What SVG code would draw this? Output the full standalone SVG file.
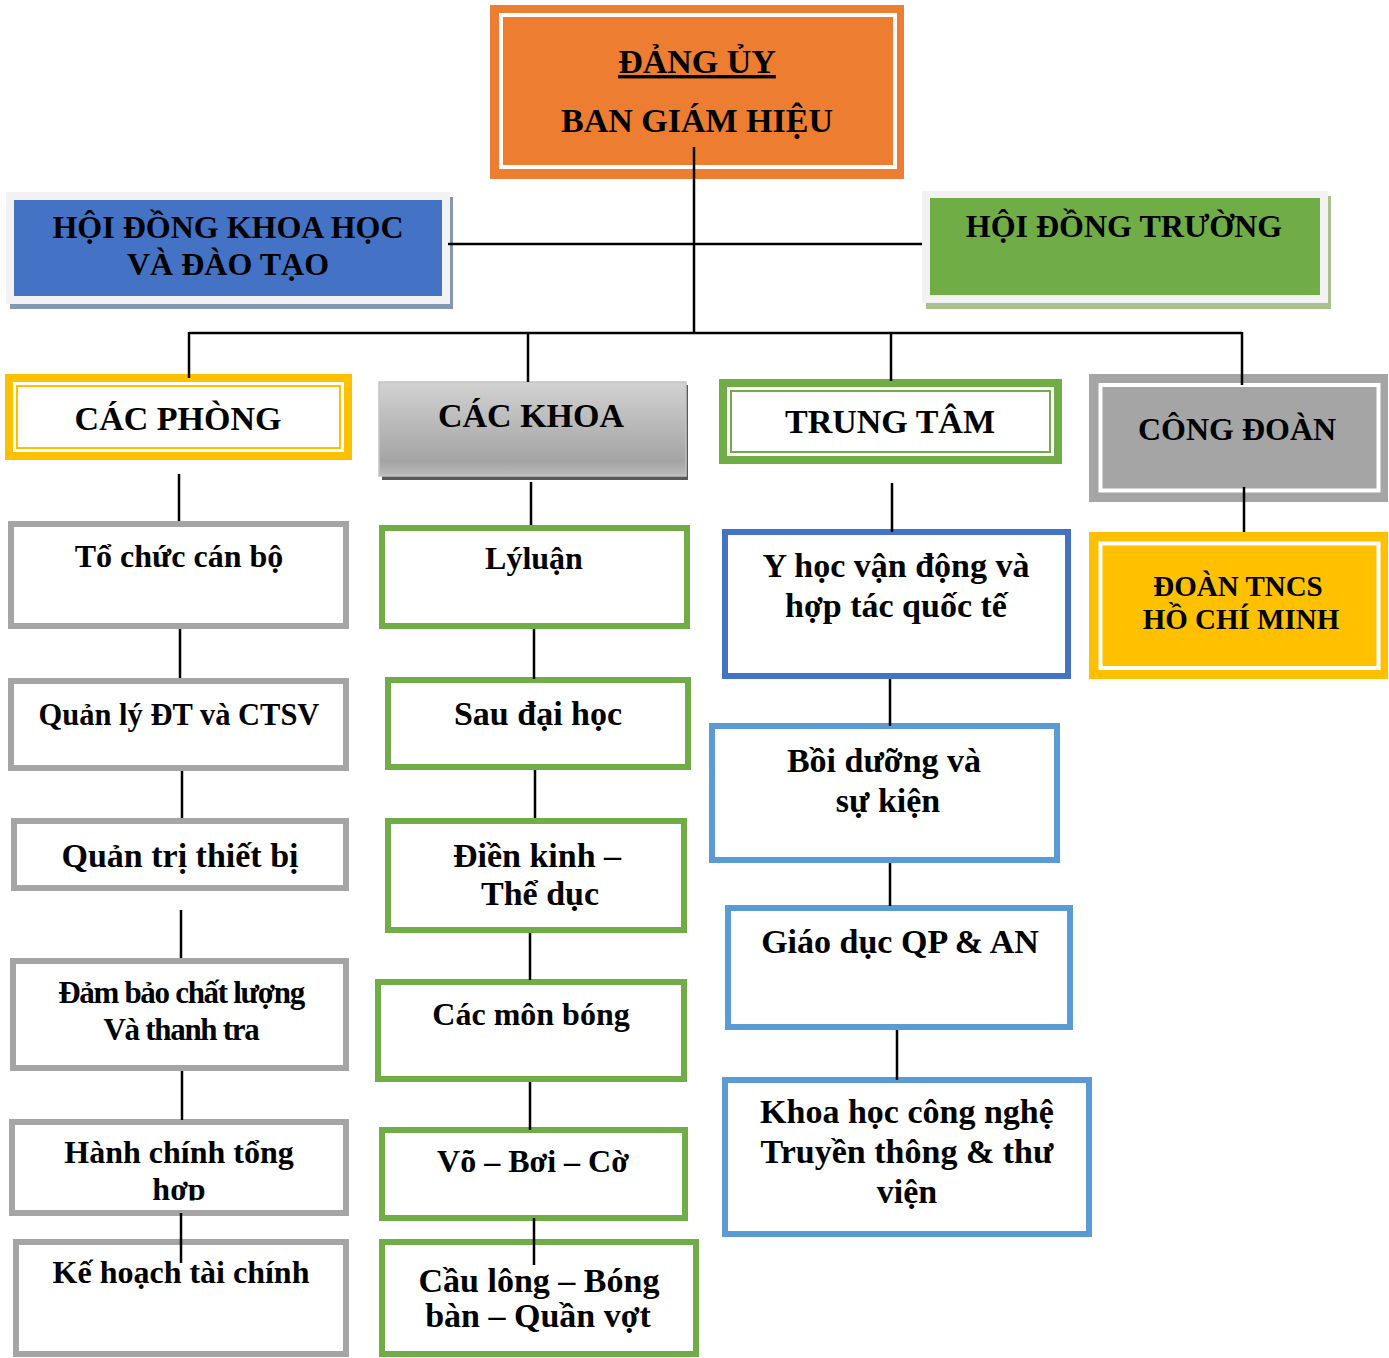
<svg xmlns="http://www.w3.org/2000/svg" width="1389" height="1358" viewBox="0 0 1389 1358">
<style>
.t{font-family:"Liberation Serif","Times New Roman",serif;font-weight:bold;fill:#000;text-anchor:middle}
.ln{stroke:#000;stroke-width:2.5;fill:none}
.gray{fill:#fff;stroke:#a5a5a5;stroke-width:6}
.green{fill:#fff;stroke:#70ad47;stroke-width:6}
.blue{fill:#fff;stroke:#4472c4;stroke-width:6}
.lblue{fill:#fff;stroke:#5b9bd5;stroke-width:6}
</style>
<defs>
<linearGradient id="gk" x1="0" y1="0" x2="0" y2="1">
<stop offset="0" stop-color="#d2d2d2"/>
<stop offset="0.85" stop-color="#a4a4a4"/>
<stop offset="1" stop-color="#bcbcbc"/>
</linearGradient>
<clipPath id="cl1"><rect x="0" y="1100" width="400" height="100.5"/></clipPath>
</defs>
<rect width="1389" height="1358" fill="#fff"/>

<g id="dang-uy">
<rect x="490" y="5" width="414" height="174" fill="#ed7d31"/>
<rect x="501" y="15" width="394" height="152" fill="none" stroke="#fff" stroke-width="4"/>
<text class="t" x="697" y="73" font-size="34" text-decoration="underline">ĐẢNG ỦY</text>
<text class="t" x="697" y="132" font-size="34">BAN GIÁM HIỆU</text>
</g>

<g id="hd-khoa-hoc">
<rect x="10" y="197" width="443" height="112" fill="#8497b0"/>
<rect x="6" y="192" width="444" height="112" fill="#f2f2f2"/>
<rect x="14" y="200" width="428" height="96" fill="#4472c4"/>
<text class="t" x="228" y="238" font-size="32">HỘI ĐỒNG KHOA HỌC</text>
<text class="t" x="228" y="275" font-size="32">VÀ ĐÀO TẠO</text>
</g>

<g id="hd-truong">
<rect x="926" y="196" width="405" height="113" fill="#a9c08f"/>
<rect x="922" y="191" width="406" height="112" fill="#f2f2f2"/>
<rect x="930" y="198" width="390" height="97" fill="#70ad47"/>
<text class="t" x="1124" y="237" font-size="32">HỘI ĐỒNG TRƯỜNG</text>
</g>

<g id="cac-phong">
<rect x="5" y="374" width="347" height="86" fill="#ffc000"/>
<rect x="13" y="382" width="331" height="70" fill="#fff"/>
<rect x="17" y="386" width="323" height="62" fill="none" stroke="#ffc000" stroke-width="2"/>
<text class="t" x="178" y="430" font-size="34">CÁC PHÒNG</text>
</g>

<g id="cac-khoa">
<rect x="382" y="385" width="306" height="95" fill="#595959"/>
<rect x="379" y="382" width="307" height="94" fill="url(#gk)" stroke="#c4c4c4" stroke-width="1.5"/>
<text class="t" x="531" y="427" font-size="34">CÁC KHOA</text>
</g>

<g id="trung-tam">
<rect x="719" y="379" width="343" height="85" fill="#70ad47"/>
<rect x="727" y="387" width="327" height="69" fill="#fff"/>
<rect x="731" y="391" width="319" height="61" fill="none" stroke="#70ad47" stroke-width="2"/>
<text class="t" x="890" y="433" font-size="34">TRUNG TÂM</text>
</g>

<g id="cong-doan">
<rect x="1089" y="374" width="299" height="128" fill="#a5a5a5"/>
<rect x="1100.5" y="385" width="278" height="105.5" fill="none" stroke="#fff" stroke-width="4"/>
<text class="t" x="1237" y="440" font-size="32">CÔNG ĐOÀN</text>
</g>

<g id="doan-tncs">
<rect x="1089" y="532" width="299" height="147" fill="#ffc000"/>
<rect x="1100.5" y="543.5" width="278" height="124.5" fill="none" stroke="#fff" stroke-width="4"/>
<text class="t" x="1238" y="596" font-size="29">ĐOÀN TNCS</text>
<text class="t" x="1241" y="629" font-size="29">HỒ CHÍ MINH</text>
</g>

<g id="to-chuc-can-bo">
<rect class="gray" x="11" y="524" width="335" height="102"/>
<text class="t" x="179" y="567" font-size="32">Tổ chức cán bộ</text>
</g>
<g id="quan-ly-dt">
<rect class="gray" x="11" y="681" width="335" height="87"/>
<text class="t" x="179" y="725" font-size="30.5">Quản lý ĐT và CTSV</text>
</g>
<g id="quan-tri-thiet-bi">
<rect class="gray" x="14" y="821" width="332" height="67"/>
<text class="t" x="180" y="867" font-size="34">Quản trị thiết bị</text>
</g>
<g id="dam-bao-chat-luong">
<rect class="gray" x="13" y="961" width="333" height="107"/>
<text class="t" x="181" y="1003" font-size="31" letter-spacing="-1.3">Đảm bảo chất lượng</text>
<text class="t" x="181" y="1040" font-size="31" letter-spacing="-1.3">Và thanh tra</text>
</g>
<g id="hanh-chinh">
<rect class="gray" x="12" y="1122" width="334" height="91"/>
<text class="t" x="179" y="1163" font-size="32">Hành chính tổng</text>
<text class="t" x="179" y="1200" font-size="32" clip-path="url(#cl1)">hợp</text>
</g>
<g id="ke-hoach">
<rect class="gray" x="16" y="1242" width="330" height="112"/>
<text class="t" x="181" y="1283" font-size="32">Kế hoạch tài chính</text>
</g>

<g id="ly-luan">
<rect class="green" x="382" y="528" width="305" height="98"/>
<text class="t" x="534" y="569" font-size="32">Lýluận</text>
</g>
<g id="sau-dai-hoc">
<rect class="green" x="388" y="680" width="300" height="87"/>
<text class="t" x="538" y="725" font-size="34">Sau đại học</text>
</g>
<g id="dien-kinh">
<rect class="green" x="388" y="821" width="296" height="109"/>
<text class="t" x="537" y="867" font-size="34">Điền kinh –</text>
<text class="t" x="540" y="905" font-size="34">Thể dục</text>
</g>
<g id="cac-mon-bong">
<rect class="green" x="378" y="982" width="306" height="97"/>
<text class="t" x="531" y="1025" font-size="32">Các môn bóng</text>
</g>
<g id="vo-boi-co">
<rect class="green" x="382" y="1130" width="303" height="88"/>
<text class="t" x="533" y="1172" font-size="32">Võ – Bơi – Cờ</text>
</g>
<g id="cau-long">
<rect class="green" x="382" y="1242" width="314" height="112"/>
<text class="t" x="539" y="1292" font-size="34">Cầu lông – Bóng</text>
<text class="t" x="538" y="1327" font-size="34">bàn – Quần vợt</text>
</g>

<g id="y-hoc">
<rect class="blue" x="725" y="532" width="343" height="144"/>
<text class="t" x="896" y="577" font-size="34">Y học vận động và</text>
<text class="t" x="896" y="617" font-size="34">hợp tác quốc tế</text>
</g>
<g id="boi-duong">
<rect class="lblue" x="712" y="726" width="345" height="134"/>
<text class="t" x="884" y="772" font-size="34">Bồi dưỡng và</text>
<text class="t" x="888" y="812" font-size="34">sự kiện</text>
</g>
<g id="giao-duc">
<rect class="lblue" x="728" y="908" width="342" height="119"/>
<text class="t" x="900" y="953" font-size="34">Giáo dục QP &amp; AN</text>
</g>
<g id="khoa-hoc-cn">
<rect class="lblue" x="725" y="1080" width="364" height="154"/>
<text class="t" x="907" y="1123" font-size="34">Khoa học công nghệ</text>
<text class="t" x="907" y="1163" font-size="34">Truyền thông &amp; thư</text>
<text class="t" x="907" y="1203" font-size="34">viện</text>
</g>

<g id="connectors">
<path class="ln" d="M694 147V333"/>
<path class="ln" d="M448 244H922"/>
<path class="ln" d="M189 333H1242"/>
<path class="ln" d="M189 332V378M528 332V382M891 332V381M1242 332V385"/>
<path class="ln" d="M179 474V521M180 629V678M182 771V818M181 910V958M182 1071V1120M181 1213V1263"/>
<path class="ln" d="M531 482V525M534 629V679M535 770V818M530 933V980M530 1082V1130M534 1218V1265"/>
<path class="ln" d="M892 483V532M890 679V726M890 863V906M897 1030V1080"/>
<path class="ln" d="M1244 487V532"/>
</g>
</svg>
